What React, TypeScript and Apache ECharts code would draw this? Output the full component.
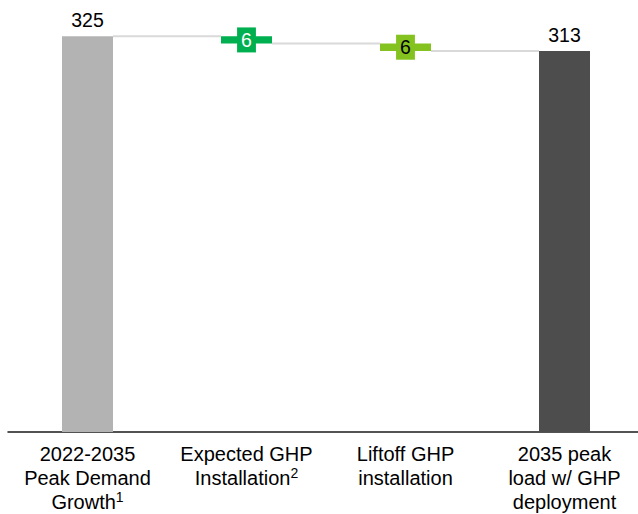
import React, { useEffect, useRef } from "react";
import * as echarts from "echarts";

const categories = [
  "2022-2035\nPeak Demand\nGrowth{sup|1}",
  "Expected GHP\nInstallation{sup|2}",
  "Liftoff GHP\ninstallation",
  "2035 peak\nload w/ GHP\ndeployment",
];
const startTotal = 325;
const changes = [-6, -6];
const endTotal = 313;
const barColors = ["#b3b3b3", "#00b050", "#84c31f", "#4d4d4d"];
const labelColors = ["#000000", "#ffffff", "#000000", "#000000"];

export default function App() {
  const ref = useRef<HTMLDivElement>(null);
  useEffect(() => {
    if (!ref.current) return;
    const chart = echarts.init(ref.current, null, { renderer: "svg" });
    const font = "'Liberation Sans', Arial, sans-serif";

    const levels: number[] = [startTotal];
    let cur = startTotal;
    const base: number[] = [0];
    const vis: number[] = [startTotal];
    changes.forEach((c) => {
      const next = cur + c;
      base.push(Math.min(cur, next));
      vis.push(Math.abs(c));
      cur = next;
      levels.push(cur);
    });
    base.push(0);
    vis.push(endTotal);
    const connectorData = levels.map((v, i) => [i, v]);
    const barW = 51;

    const option: any = {
      animation: false,
      grid: { left: 8, width: 636, top: 18, height: 415, containLabel: false },
      xAxis: {
        type: "category",
        data: categories,
        axisLine: { show: true, lineStyle: { color: "#1a1a1a", width: 1.5 } },
        axisTick: { show: false },
        axisLabel: {
          interval: 0,
          margin: 10,
          color: "#000",
          fontFamily: font,
          fontSize: 20,
          lineHeight: 24,
          rich: {
            sup: { fontSize: 14, fontFamily: font, color: "#000", verticalAlign: "top", lineHeight: 15 },
          },
        },
      },
      yAxis: { type: "value", min: 0, max: 340, show: false, splitLine: { show: false } },
      series: [
        {
          type: "custom",
          z: 1,
          data: connectorData,
          renderItem: (params: any, api: any) => {
            const i = api.value(0);
            const v = api.value(1);
            const p1 = api.coord([i, v]);
            const p2 = api.coord([i + 1, v]);
            return {
              type: "line",
              shape: { x1: p1[0] + barW / 2, y1: p1[1], x2: p2[0] - barW / 2, y2: p2[1] },
              style: { stroke: "#d9d9d9", lineWidth: 2 },
            };
          },
        },
        {
          type: "bar",
          stack: "w",
          barWidth: barW,
          z: 2,
          itemStyle: { color: "transparent" },
          emphasis: { disabled: true },
          data: base,
        },
        {
          type: "bar",
          stack: "w",
          barWidth: barW,
          z: 3,
          data: vis.map((v, i) => {
            const isTotal = i === 0 || i === vis.length - 1;
            return {
              value: v,
              itemStyle: { color: barColors[i] },
              label: isTotal
                ? {
                    show: true,
                    position: "top",
                    distance: 6,
                    color: labelColors[i],
                    fontSize: 19.5,
                    fontFamily: font,
                    formatter: String(v),
                  }
                : {
                    show: true,
                    position: "inside",
                    color: labelColors[i],
                    fontSize: 19.5,
                    lineHeight: 19,
                    fontFamily: font,
                    backgroundColor: barColors[i],
                    padding: [3, 4],
                    formatter: String(v),
                  },
            };
          }),
        },
      ],
    };
    chart.setOption(option);
    return () => chart.dispose();
  }, []);
  return (
    <div style={{ position: "fixed", left: 0, top: 0, width: 638, height: 514, overflow: "hidden", background: "#fff" }}>
      <div ref={ref} style={{ width: 660, height: 514 }} />
    </div>
  );
}
